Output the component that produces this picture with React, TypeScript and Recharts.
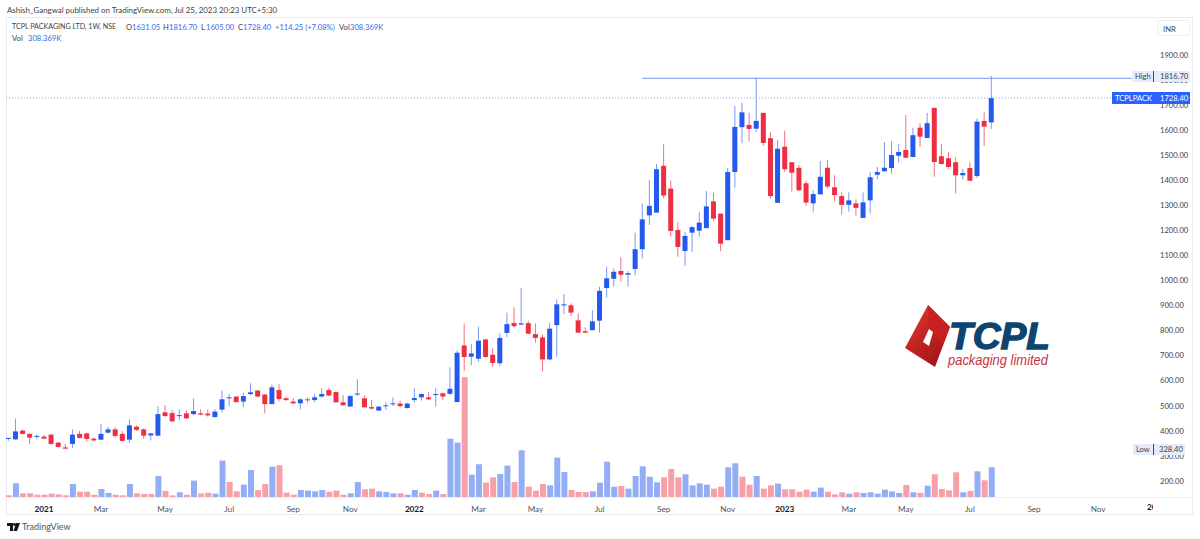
import React from 'react';
import { ComposedChart, Bar, Cell, XAxis, YAxis, ReferenceLine } from 'recharts';

// weekly candles, prices in INR
const opens = [
  368, 366, 401, 388, 376, 377, 385, 353, 334, 348,
  388, 390, 369, 365, 393, 406, 388, 365, 417, 406,
  382, 381, 474, 471, 461, 470, 467, 470, 469, 455,
  485, 530, 537, 517, 547, 561, 545, 507, 563, 530,
  517, 510, 526, 523, 537, 563, 555, 514, 497, 545,
  530, 495, 481, 498, 506, 509, 491, 523, 534, 534,
  543, 550, 548, 515, 741, 696, 688, 765, 704, 670,
  791, 830, 824, 830, 786, 773, 685, 822, 901, 901,
  841, 798, 802, 840, 970, 1007, 1038, 1023, 1046, 1125,
  1260, 1271, 1458, 1367, 1202, 1118, 1191, 1199, 1209, 1316,
  1267, 1161, 1433, 1612, 1621, 1606, 1669, 1568, 1310, 1534,
  1472, 1450, 1388, 1308, 1344, 1450, 1372, 1337, 1302, 1308,
  1250, 1320, 1422, 1436, 1449, 1498, 1521, 1493, 1610, 1569,
  1689, 1496, 1488, 1472, 1420, 1449, 1417, 1637, 1631.05,
];
const closes = [
  372, 398, 388, 373, 380, 369, 348, 336, 329, 385,
  372, 368, 362, 388, 406, 380, 360, 422, 404, 381,
  390, 467, 459, 438, 463, 450, 479, 465, 462, 477,
  526, 534, 515, 539, 554, 537, 507, 574, 527, 523,
  510, 526, 522, 534, 547, 541, 514, 502, 539, 549,
  494, 489, 497, 502, 510, 499, 509, 531, 547, 526,
  547, 537, 568, 712, 695, 709, 760, 695, 671, 771,
  826, 818, 829, 788, 771, 685, 808, 905, 905, 872,
  792, 792, 837, 959, 1009, 1035, 1023, 1029, 1125, 1244,
  1298, 1444, 1339, 1198, 1134, 1178, 1213, 1231, 1296, 1247,
  1147, 1433, 1613, 1671, 1605, 1637, 1549, 1337, 1526, 1444,
  1430, 1360, 1311, 1345, 1414, 1375, 1341, 1302, 1320, 1290,
  1312, 1412, 1433, 1450, 1501, 1513, 1490, 1580, 1574, 1628,
  1473, 1465, 1453, 1420, 1429, 1398, 1634, 1614, 1728.4,
];
const highs = [
  372, 449, 406, 390, 386, 384, 388, 356, 348, 406,
  400, 393, 374, 428, 417, 414, 398, 446, 421, 410,
  390, 499, 503, 483, 486, 481, 529, 486, 486, 486,
  561, 547, 539, 553, 590, 563, 547, 586, 586, 537,
  531, 531, 534, 547, 570, 571, 558, 543, 543, 606,
  542, 523, 499, 515, 534, 521, 513, 571, 550, 555,
  570, 553, 654, 720, 829, 747, 816, 765, 729, 789,
  872, 893, 970, 840, 829, 785, 832, 925, 946, 909,
  869, 813, 882, 975, 1055, 1049, 1093, 1038, 1191, 1308,
  1401, 1465, 1544, 1399, 1233, 1193, 1218, 1274, 1357, 1351,
  1267, 1449, 1697, 1710, 1670, 1808, 1669, 1592, 1561, 1598,
  1472, 1461, 1398, 1361, 1477, 1481, 1420, 1352, 1352, 1324,
  1352, 1434, 1453, 1553, 1557, 1545, 1661, 1610, 1628, 1669,
  1689, 1545, 1513, 1492, 1445, 1472, 1647, 1671, 1816.7,
];
const lows = [
  361, 366, 386, 348, 366, 368, 345, 334, 328.4, 332,
  370, 358, 358, 364, 390, 374, 356, 352, 400, 369,
  362, 380, 457, 436, 443, 449, 463, 462, 457, 454,
  473, 499, 513, 494, 542, 534, 470, 506, 517, 519,
  507, 486, 513, 515, 534, 539, 513, 501, 497, 539,
  493, 486, 479, 483, 499, 494, 490, 513, 521, 523,
  497, 523, 544, 515, 638, 662, 676, 692, 656, 660,
  775, 813, 822, 785, 752, 638, 681, 696, 866, 858,
  790, 790, 801, 792, 933, 976, 996, 976, 1021, 1089,
  1222, 1271, 1328, 1175, 1095, 1059, 1114, 1175, 1209, 1238,
  1117, 1161, 1371, 1548, 1554, 1593, 1537, 1327, 1310, 1433,
  1355, 1357, 1298, 1275, 1343, 1367, 1315, 1263, 1275, 1259,
  1250, 1267, 1404, 1434, 1426, 1470, 1489, 1492, 1533, 1568,
  1414, 1464, 1445, 1347, 1404, 1397, 1410, 1537, 1605,
];
// volume in thousands
const volumes = [
  17, 142, 38, 38, 24, 24, 35, 28, 17, 135,
  55, 55, 24, 83, 42, 24, 17, 135, 38, 31,
  31, 218, 62, 17, 49, 24, 170, 38, 45, 35,
  378, 156, 59, 128, 281, 73, 135, 315, 329, 45,
  24, 73, 66, 59, 73, 55, 66, 24, 38, 156,
  80, 87, 59, 52, 38, 38, 24, 73, 45, 31,
  66, 31, 606, 565, 1244, 232, 340, 149, 204, 239,
  326, 156, 485, 107, 66, 135, 121, 409, 260, 73,
  52, 52, 59, 149, 367, 107, 114, 87, 218, 319,
  211, 152, 204, 291, 204, 236, 121, 142, 128, 87,
  107, 308, 350, 211, 128, 218, 87, 121, 139, 80,
  80, 55, 76, 55, 97, 55, 28, 49, 35, 49,
  42, 49, 35, 76, 59, 42, 125, 49, 42, 118,
  236, 83, 69, 256, 49, 62, 267, 173, 308.37,
];
// 1 = volume bar drawn as up week, 0 = down week
const volumeUp = [
  0, 1, 0, 0, 0, 0, 0, 0, 0, 1,
  0, 0, 0, 1, 1, 0, 0, 1, 0, 0,
  0, 1, 0, 0, 1, 0, 1, 0, 0, 1,
  1, 0, 0, 1, 1, 0, 0, 1, 0, 0,
  0, 1, 1, 1, 1, 0, 0, 0, 1, 1,
  0, 0, 1, 1, 1, 0, 1, 1, 0, 0,
  1, 0, 1, 1, 0, 1, 1, 0, 0, 1,
  1, 0, 1, 0, 0, 0, 1, 1, 1, 0,
  0, 0, 1, 1, 1, 1, 0, 1, 1, 1,
  1, 1, 0, 0, 0, 1, 1, 1, 1, 0,
  0, 1, 1, 0, 0, 1, 0, 0, 1, 0,
  0, 0, 0, 1, 1, 0, 0, 0, 1, 0,
  1, 1, 1, 1, 1, 1, 0, 1, 0, 1,
  0, 0, 0, 0, 1, 0, 1, 0, 1,
];
const priceTicks = [200, 300, 400, 500, 600, 700, 800, 900, 1000, 1100, 1200, 1300, 1400, 1500, 1600, 1700, 1800, 1900];
const timeTicks = [5, 13, 22, 31, 40, 48, 57, 66, 74, 83, 92, 101, 109, 118, 126, 135, 144, 153];
const timeLabels = ['2021', 'Mar', 'May', 'Jul', 'Sep', 'Nov', '2022', 'Mar', 'May', 'Jul', 'Sep', 'Nov', '2023', 'Mar', 'May', 'Jul', 'Sep', 'Nov'];

const data = opens.map((open, i) => ({
  week: i,
  open,
  close: closes[i],
  high: highs[i],
  low: lows[i],
  range: [lows[i], highs[i]],
  volume: volumes[i],
}));

const FONT = 'Lato, sans-serif';
const UP = '#2559ee';
const DOWN = '#ee2f42';
const UP_WICK = '#7b9bf0';
const DOWN_WICK = '#f0727e';
const VOL_UP = '#94aef5';
const VOL_DOWN = '#f7a0a8';
const LABEL_BLUE = '#3a6ae6';

const Candle = (props: any) => {
  const { x, y, width, height, payload } = props;
  const { open, close, high, low } = payload;
  const perUnit = Math.abs(height) / (high - low);
  const top = Math.min(y, y + height);
  const bodyTop = top + (high - Math.max(open, close)) * perUnit;
  const bodyH = Math.max(Math.abs(open - close) * perUnit, 1);
  const up = close >= open;
  return (
    <g>
      <rect x={x + width / 2 - 0.5} y={top} width={1} height={Math.abs(height)} fill={up ? UP_WICK : DOWN_WICK} />
      <rect x={x} y={bodyTop} width={width} height={bodyH} fill={up ? UP : DOWN} />
    </g>
  );
};

const TimeTick = (props: any) => {
  const { x, y, payload } = props;
  const label = timeLabels[timeTicks.indexOf(payload.value)];
  const isYear = label.length === 4;
  return (
    <text x={x} y={y} dy={3} textAnchor="middle" fontFamily={FONT} fontSize={8.2} fontWeight={isYear ? 700 : 400} fill={isYear ? '#131722' : '#50535e'}>
      {label}
    </text>
  );
};

const Txt = ({ x, y, color = '#3c3f47', size = 7.6, children }: any) => (
  <div style={{ position: 'absolute', left: x, top: y - 7, height: 14, lineHeight: '14px', fontSize: size, color, fontFamily: FONT, whiteSpace: 'nowrap' }}>
    {children}
  </div>
);

const Box = ({ x, y, w, h, style }: any) => (
  <div style={{ position: 'absolute', left: x, top: y, width: w, height: h, ...style }} />
);

const Logo = () => (
  <svg width={1200} height={539} style={{ position: 'absolute', left: 0, top: 0, pointerEvents: 'none' }}>
    <defs>
      <linearGradient id="logoRed" x1="0" y1="0" x2="0.6" y2="1">
        <stop offset="0" stopColor="#e8392f" />
        <stop offset="1" stopColor="#a3161b" />
      </linearGradient>
    </defs>
    <polygon points="928,305 950,327 935,367 905,348" fill="url(#logoRed)" />
    <polygon points="928,305 950,327 943,345 933,332 929,329" fill="#c9201f" />
    <polygon points="923,342 929,329 933,332 929,346" fill="#fff" />
    <text x={949} y={349} fontFamily="Liberation Sans" fontWeight={700} fontStyle="italic" fontSize={36} fill="#0e4470" textLength={101} lengthAdjust="spacingAndGlyphs" stroke="#0e4470" strokeWidth={1.3}>
      TCPL
    </text>
    <text x={948} y={365} fontFamily="Liberation Sans" fontStyle="italic" fontSize={15} fill="#c5323e" textLength={100} lengthAdjust="spacingAndGlyphs">
      packaging limited
    </text>
    {/* TradingView mark */}
    <polygon points="7,523 13,523 13,531 10,531 10,526 7,526" fill="#131722" />
    <circle cx={14.5} cy={524.5} r={1.4} fill="#131722" />
    <polygon points="16,523 20,523 17,531 13.5,531" fill="#131722" />
  </svg>
);

export default function App() {
  return (
    <div style={{ position: 'absolute', left: 0, top: 0, width: 1200, height: 539, background: '#fff', overflow: 'hidden' }}>
      <Box x={6} y={17} w={1187} h={498} style={{ border: '1px solid #e9ebf0', boxSizing: 'border-box' }} />
      <Box x={6} y={497} w={1187} h={1} style={{ background: '#eceef2' }} />
      <ComposedChart
        width={1200}
        height={539}
        data={data}
        margin={{ top: 17, right: 7, bottom: 23, left: 6 }}
        style={{ position: 'absolute', left: 0, top: 0 }}
      >
        <XAxis
          xAxisId="time"
          dataKey="week"
          type="number"
          domain={[-0.337, 160.7]}
          allowDataOverflow
          ticks={timeTicks}
          height={19}
          axisLine={false}
          tickLine={false}
          tick={<TimeTick />}
          tickMargin={6}
          interval={0}
        />
        <XAxis xAxisId="vol" dataKey="week" type="number" domain={[-0.337, 160.7]} allowDataOverflow hide />
        <YAxis
          yAxisId="price"
          orientation="right"
          width={40}
          type="number"
          domain={[136.2, 2051.6]}
          allowDataOverflow
          ticks={priceTicks}
          interval={0}
          axisLine={false}
          tickLine={false}
          tickSize={0}
          tickMargin={7}
          tickFormatter={(v: number) => v.toFixed(2)}
          tick={{ fontSize: 7.6, fontFamily: FONT, fill: '#3c3f47' }}
        />
        <YAxis yAxisId="volume" hide type="number" domain={[0, 4982]} allowDataOverflow />
        <Bar xAxisId="vol" yAxisId="volume" dataKey="volume" barSize={6} isAnimationActive={false}>
          {data.map((d, i) => (
            <Cell key={d.week} fill={volumeUp[i] ? VOL_UP : VOL_DOWN} />
          ))}
        </Bar>
        <ReferenceLine xAxisId="time" yAxisId="price" y={1728.4} stroke="#8fa9ee" strokeDasharray="1 2" />
        <ReferenceLine
          xAxisId="time"
          yAxisId="price"
          segment={[{ x: 89, y: 1807 }, { x: 157.7, y: 1807 }]}
          stroke="#6f94e6"
          strokeWidth={1}
        />
        <Bar xAxisId="time" yAxisId="price" dataKey="range" barSize={5} shape={<Candle />} isAnimationActive={false} />
      </ComposedChart>

      <Txt x={7} y={10} size={7.9}>Ashish_Gangwal published on TradingView.com, Jul 25, 2023 20:23 UTC+5:30</Txt>
      <Txt x={12} y={27} size={7.1}>TCPL PACKAGING LTD, 1W, NSE</Txt>
      <Txt x={126} y={27}>O</Txt>
      <Txt x={132} y={27} color={LABEL_BLUE}>1631.05</Txt>
      <Txt x={163} y={27}>H</Txt>
      <Txt x={169} y={27} color={LABEL_BLUE}>1816.70</Txt>
      <Txt x={201} y={27}>L</Txt>
      <Txt x={206} y={27} color={LABEL_BLUE}>1605.00</Txt>
      <Txt x={238} y={27}>C</Txt>
      <Txt x={243} y={27} color={LABEL_BLUE}>1728.40</Txt>
      <Txt x={275} y={27} color={LABEL_BLUE}>+114.25 (+7.08%)</Txt>
      <Txt x={339} y={27}>Vol</Txt>
      <Txt x={350} y={27} color={LABEL_BLUE}>308.369K</Txt>
      <Txt x={12} y={38}>Vol</Txt>
      <Txt x={28} y={38} color={LABEL_BLUE}>308.369K</Txt>

      <Box x={1157} y={20} w={33} h={16} style={{ border: '1px solid #ebedf1', borderRadius: 2, boxSizing: 'border-box' }} />
      <Txt x={1163} y={28.5}>INR</Txt>

      <Box x={1132} y={71} w={58} h={11} style={{ background: '#e4ecfb' }} />
      <Box x={1153} y={71} w={1} h={11} style={{ background: '#3a4a78' }} />
      <Txt x={1135} y={76}>High</Txt>
      <Txt x={1160} y={76}>1816.70</Txt>

      <Box x={1112} y={92} w={78} h={12} style={{ background: '#2962ff' }} />
      <Txt x={1115} y={98} color="#fff">TCPLPACK</Txt>
      <Txt x={1160} y={98} color="#fff">1728.40</Txt>

      <Box x={1133} y={444} w={52} h={11} style={{ background: '#e4ecfb' }} />
      <Box x={1153} y={444} w={1} h={11} style={{ background: '#3a4a78' }} />
      <Txt x={1136} y={449}>Low</Txt>
      <Txt x={1159} y={449}>328.40</Txt>

      <div style={{ position: 'absolute', left: 1147, top: 500, width: 6, height: 14, overflow: 'hidden' }}>
        <div style={{ fontFamily: FONT, fontSize: 8.2, fontWeight: 700, lineHeight: '14px', color: '#131722' }}>2024</div>
      </div>

      <Logo />
      <Txt x={22} y={527} size={9} color="#50535e">TradingView</Txt>
    </div>
  );
}
